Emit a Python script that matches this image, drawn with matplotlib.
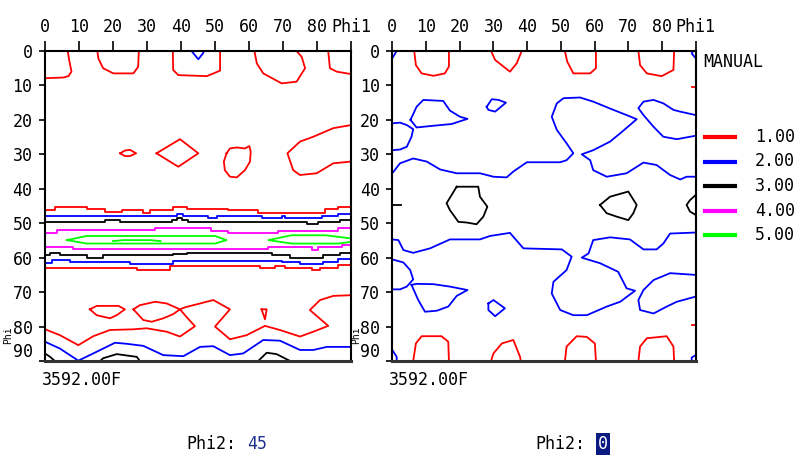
import matplotlib.pyplot as plt
from matplotlib.lines import Line2D

plt.rcParams['font.family'] = ['DejaVu Sans Mono']

# contour levels (legend)
levels = ['1.00', '2.00', '3.00', '4.00', '5.00']
level_colors = ['#ff0000', '#0000ff', '#000000', '#ff00ff', '#00ff00']

phi1_ticks = [0, 10, 20, 30, 40, 50, 60, 70, 80, 90]
phi1_labels = ['0', '10', '20', '30', '40', '50', '60', '70', '80', 'Phi1']
Phi_ticks = [0, 10, 20, 30, 40, 50, 60, 70, 80, 90]
Phi_labels = ['0', '10', '20', '30', '40', '50', '60', '70', '80', '90']

# ---- left section, Phi2 = 45 : contour lines as (phi1, Phi) vertices ----
L1_a_x = [6.7, 7.1, 7.8, 6.9, 5.4, 0]
L1_a_y = [0, 2.6, 6, 7.3, 7.7, 7.9]
L1_b_x = [15.4, 15.7, 17.1, 20.1, 26.0, 27.4, 27.6]
L1_b_y = [0, 2.2, 5.0, 6.5, 6.5, 4.6, 0]
L1_c_x = [37.6, 37.7, 39.2, 47.6, 51.5, 51.5]
L1_c_y = [0, 5.5, 7.0, 7.3, 5.7, 0]
L1_d_x = [61.6, 62.3, 64.2, 69.6, 74.0, 76.5, 75.5, 74.0]
L1_d_y = [0, 3.6, 6.5, 9.4, 8.9, 5.0, 1.7, 0]
L1_e_x = [83.3, 83.8, 85.8, 90]
L1_e_y = [0, 5.0, 6.0, 6.7]
L2_a_x = [43.1, 45.1, 46.6, 46.5]
L2_a_y = [0, 2.4, 0.5, 0]
L1_f_x = [22.1, 23.5, 25.0, 26.8, 25.0, 23.5, 22.1]
L1_f_y = [29.7, 28.9, 28.7, 29.7, 30.5, 30.5, 29.7]
L1_g_x = [32.8, 39.7, 45.1, 39.2, 32.8]
L1_g_y = [29.7, 25.6, 29.7, 33.6, 29.7]
L1_h_x = [53.4, 54.4, 56.4, 58.8, 60.1, 60.5, 60.3, 58.8, 56.4, 54.4, 52.9, 52.6, 53.4]
L1_h_y = [29.7, 28.3, 28.0, 28.3, 27.6, 29.2, 32.1, 34.6, 36.7, 36.5, 34.6, 32.1, 29.7]
L1_i_x = [90, 84.8, 78.9, 75.0, 71.3, 73.0, 75.0, 79.9, 84.8, 90]
L1_i_y = [21.5, 22.4, 24.9, 26.3, 29.7, 34.6, 36.0, 35.5, 32.6, 32.1]
# horizontal bands (stepped)
L1_up_x = [0, 2.9, 12.3, 17.6, 22.5, 28.9, 30.9, 37.7, 41.7, 53.9, 62.7, 82.4, 86.3, 90]
L1_up_y = [46.2, 45.4, 46.0, 46.7, 46.2, 46.9, 46.2, 45.4, 46.0, 46.2, 46.9, 46.0, 45.4, 45.4]
L2_up_x = [0, 38.7, 40.7, 48.0, 50.5, 63.7, 69.6, 70.6, 81.4, 86.3, 90]
L2_up_y = [47.8, 47.2, 47.8, 48.6, 47.8, 48.6, 47.8, 48.6, 47.8, 47.3, 47.3]
L3_up_x = [0, 17.6, 22.1, 37.3, 38.7, 40.2, 42, 77, 80.4, 86.7, 90]
L3_up_y = [49.6, 49.1, 49.6, 49.0, 48.4, 49.1, 49.6, 50.3, 49.6, 49.0, 49.0]
L4_up_x = [0, 3.4, 28.9, 32.4, 48.9, 53.9, 68.6, 86.3, 90]
L4_up_y = [52.7, 52.0, 51.9, 51.3, 52.2, 52.8, 52.2, 51.5, 51.5]
L5_a_x = [6.4, 12.3, 50, 53.4, 50, 12.3, 6.4]
L5_a_y = [54.9, 53.7, 53.7, 54.9, 55.9, 55.9, 54.9]
L5_b_x = [20, 23, 31, 34]
L5_b_y = [55.2, 54.9, 54.9, 55.2]
L5_c_x = [90, 82.4, 72.5, 65.7, 72.5, 86.3, 90]
L5_c_y = [54.4, 53.5, 53.5, 54.9, 55.9, 55.9, 55.4]
L4_dn_x = [0, 8.3, 65.7, 78.4, 80.4, 87.3, 90]
L4_dn_y = [57.0, 57.6, 57.0, 57.9, 57.0, 56.4, 56.4]
L3_dn_x = [0, 1.5, 4.4, 12.3, 17.2, 37.7, 41.7, 66.7, 72.1, 81.9, 86.8, 90]
L3_dn_y = [59.2, 58.6, 59.2, 60.0, 59.2, 58.8, 58.6, 59.2, 60.0, 59.2, 58.6, 58.6]
L2_dn_x = [0, 2.0, 7.4, 25.0, 37.7, 69.6, 75.0, 81.9, 86.3, 90]
L2_dn_y = [61.5, 60.7, 61.2, 61.7, 60.9, 61.4, 61.9, 61.2, 60.5, 60.5]
L1_dn_x = [0, 27, 36.8, 63.2, 67.6, 70.6, 78.4, 80.9, 86.3, 90]
L1_dn_y = [63.1, 63.6, 62.5, 63.1, 62.5, 63.1, 63.6, 63.1, 62.2, 62.2]
# lower part
L1_j_x = [13.2, 15.2, 21.6, 23.5, 21.1, 19.1, 15.2, 13.2]
L1_j_y = [75.0, 74.0, 74.0, 75.0, 76.7, 77.6, 76.7, 75.0]
L1_k_x = [26.0, 27.9, 32.4, 35.8, 39.7, 37.7, 34.8, 31.4, 28.9, 26.0]
L1_k_y = [75.0, 73.8, 72.8, 73.3, 75.0, 76.4, 77.6, 78.6, 78.1, 75.0]
L1_l_x = [0, 4.4, 9.8, 14.2, 19.1, 26.0, 29.9, 35.8, 39.7, 44.1, 41.7, 39.7, 41.2, 45.6,
          49.5, 54.4, 50.0, 54.4, 59.3, 64.7, 69.1, 75.0, 78.9, 83.3, 77.9, 80.9, 84.8, 90]
L1_l_y = [80.8, 82.5, 85.4, 82.8, 81.0, 80.8, 80.5, 81.5, 82.9, 79.9, 77.3, 75.0, 74.4, 73.3,
          72.3, 75.0, 80.0, 83.7, 82.5, 79.8, 81.0, 82.9, 81.5, 79.8, 75.2, 72.3, 71.1, 70.9]
L1_m_x = [63.7, 65.2, 64.7, 63.7]
L1_m_y = [75.0, 75.0, 77.9, 75.0]
L2_b_x = [0, 4.4, 9.8, 14.2, 20.6, 24.0, 28.9, 34.8, 40.7, 45.6, 49.5, 54.4, 58.3, 64.2,
          69.1, 75.0, 78.9, 82.9, 90]
L2_b_y = [84.4, 86.4, 89.9, 87.8, 84.7, 85.0, 85.6, 88.3, 88.6, 85.9, 85.7, 88.3, 87.8, 83.9,
          84.1, 86.8, 86.8, 85.9, 85.9]
L3_a_x = [0, 1.5, 2.9]
L3_a_y = [87.8, 88.8, 90]
L3_b_x = [16.2, 17.1, 21.1, 27.0, 27.9]
L3_b_y = [90, 89.2, 88.0, 88.8, 90]
L3_c_x = [62.7, 65.2, 68.1, 72.1]
L3_c_y = [90, 87.6, 88.0, 90]

# ---- right section, Phi2 = 0 ----
R1_a_x = [6.5, 7.0, 8.7, 12.2, 15.6, 16.8, 16.8]
R1_a_y = [0, 4.1, 6.5, 7.2, 6.5, 4.5, 0]
R1_b_x = [29.3, 30.5, 34.9, 36.9, 38.4]
R1_b_y = [0, 2.6, 6.0, 3.6, 0]
R1_c_x = [51.2, 51.9, 53.7, 58.7, 60.4, 60.4]
R1_c_y = [0, 3.1, 6.5, 6.5, 5.0, 0]
R1_d_x = [73.0, 73.5, 75.5, 79.9, 83.4, 83.6]
R1_d_y = [0, 4.1, 6.5, 7.3, 5.5, 0]
R1_e_x = [6.2, 7.0, 8.7, 14.6, 16.6, 16.8]
R1_e_y = [90, 84.9, 82.8, 82.8, 84.4, 90]
R1_f_x = [29.3, 30.0, 32.5, 35.9, 37.9, 38.1]
R1_f_y = [90, 87.8, 84.9, 83.9, 88.8, 90]
R1_g_x = [51.2, 51.7, 54.7, 57.7, 60.1, 60.4]
R1_g_y = [90, 85.8, 82.8, 83.0, 84.9, 90]
R1_h_x = [73.0, 73.5, 75.5, 81.4, 83.4, 83.6]
R1_h_y = [90, 85.8, 83.4, 82.8, 85.8, 90]
R1_i_x = [89, 90]
R1_i_y = [10.4, 10.4]
R1_j_x = [89, 90]
R1_j_y = [79.6, 79.6]
R2_a_x = [0, 1.3]
R2_a_y = [2.1, 0]
R2_b_x = [90, 88.8, 89.3]
R2_b_y = [2.1, 0.7, 0]
R2_c_x = [0, 1.3, 1.3]
R2_c_y = [86.8, 88.8, 90]
R2_d_x = [90, 88.8, 88.8]
R2_d_y = [88.3, 89.0, 90]
R2_e_x = [0, 2.3, 4.3, 6.2, 5.7, 4.3, 2.3, 0]
R2_e_y = [21.0, 20.8, 21.5, 22.7, 24.9, 27.8, 28.6, 28.8]
R2_f_x = [5.4, 7.2, 9.2, 15.1, 17.1, 20.1, 22.3, 17.6, 12.2, 7.2, 5.4]
R2_f_y = [20.0, 16.2, 14.2, 14.5, 17.3, 19.1, 19.7, 21.2, 21.7, 22.2, 20.0]
R2_g_x = [28.0, 29.5, 31.5, 33.7, 30.5, 28.5, 28.0]
R2_g_y = [16.2, 14.0, 14.2, 15.0, 17.6, 17.1, 16.2]
R2_h_x = [0, 2.3, 6.2, 10.2, 14.2, 19.1, 26.0, 30.0, 33.9, 35.9, 39.9, 49.8, 51.7, 53.7,
          51.7, 48.8, 47.3, 48.8, 50.8, 55.7, 59.6, 65.6, 69.5, 72.5, 67.6, 64.6, 59.6, 56.2,
          58.7, 59.6, 63.6, 69.5, 74.5, 78.4, 82.4, 85.4, 87.3, 90]
R2_h_y = [35.5, 32.6, 31.2, 32.1, 34.4, 35.5, 35.5, 36.5, 36.7, 35.0, 32.3, 32.3, 31.7, 29.7,
          26.8, 22.9, 19.1, 15.2, 13.7, 13.5, 14.7, 17.1, 18.6, 19.8, 23.9, 26.3, 28.8, 30.0,
          31.7, 34.6, 36.5, 35.5, 32.4, 33.1, 36.0, 37.3, 36.5, 36.5]
R2_i_x = [90, 85.4, 83.4, 80.4, 77.5, 74.5, 73.0, 74.5, 77.5, 80.4, 84.4, 88.3, 90]
R2_i_y = [18.6, 17.6, 17.1, 15.2, 14.2, 14.7, 16.6, 18.6, 22.0, 24.9, 25.6, 24.9, 24.6]
R2_j_x = [0, 1.8, 3.3, 6.2, 11.2, 17.1, 26.0, 29.0, 34.9, 38.9, 50.3, 53.2, 51.7, 47.8,
          47.3, 49.8, 53.7, 57.7, 63.6, 67.6, 72.0, 69.5, 67.0, 61.6, 56.2, 58.2, 59.6, 64.6,
          70.5, 74.5, 78.4, 80.4, 82.4, 90]
R2_j_y = [54.7, 54.9, 57.8, 58.6, 57.3, 54.7, 54.7, 53.7, 52.8, 57.3, 57.6, 59.7, 63.6, 67.0,
          70.4, 75.2, 76.7, 76.7, 74.2, 72.8, 69.6, 68.9, 64.1, 61.6, 60.0, 58.8, 54.9, 54.1,
          54.7, 57.6, 57.6, 55.9, 53.0, 52.7]
R2_k_x = [0, 3.3, 5.3, 6.2, 4.3, 2.3, 0]
R2_k_y = [60.5, 61.4, 63.6, 66.3, 68.4, 69.2, 69.2]
R2_l_x = [5.7, 7.2, 12.2, 17.1, 22.3, 19.1, 16.6, 13.2, 9.7, 7.7, 5.7]
R2_l_y = [67.9, 67.6, 67.7, 68.4, 69.4, 71.1, 74.2, 75.4, 75.7, 72.3, 67.9]
R2_m_x = [28.5, 30.0, 33.4, 30.5, 28.5, 28.5]
R2_m_y = [73.3, 72.3, 74.7, 77.0, 75.2, 73.3]
R2_n_x = [90, 82.4, 77.5, 74.5, 73.0, 73.5, 77.5, 81.4, 84.4, 90]
R2_n_y = [65.0, 64.5, 66.5, 69.4, 72.3, 75.2, 76.2, 74.2, 72.8, 71.3]
R3_a_x = [19.1, 25.5, 26.0, 28.2, 27.0, 25.0, 22.1, 19.6, 17.1, 16.1, 17.6, 19.1]
R3_a_y = [39.4, 39.4, 42.3, 45.2, 48.1, 50.3, 49.8, 49.6, 46.2, 44.2, 41.8, 39.4]
R3_b_x = [61.6, 64.6, 70.0, 72.5, 71.5, 70.0, 66.6, 63.6, 61.6]
R3_b_y = [44.7, 42.3, 40.8, 44.7, 47.1, 49.1, 48.1, 47.1, 44.7]
R3_c_x = [90, 88.3, 87.3, 88.3, 90]
R3_c_y = [41.8, 43.3, 44.7, 46.6, 47.6]
R3_d_x = [0, 2.5]
R3_d_y = [44.6, 44.6]

# (level index, phi1, Phi, stepped)
left_lines = [
    (0, L1_a_x, L1_a_y, False), (0, L1_b_x, L1_b_y, False), (0, L1_c_x, L1_c_y, False),
    (0, L1_d_x, L1_d_y, False), (0, L1_e_x, L1_e_y, False), (1, L2_a_x, L2_a_y, False),
    (0, L1_f_x, L1_f_y, False), (0, L1_g_x, L1_g_y, False), (0, L1_h_x, L1_h_y, False),
    (0, L1_i_x, L1_i_y, False),
    (0, L1_up_x, L1_up_y, True), (1, L2_up_x, L2_up_y, True), (2, L3_up_x, L3_up_y, True),
    (3, L4_up_x, L4_up_y, True), (4, L5_a_x, L5_a_y, False), (4, L5_b_x, L5_b_y, False),
    (4, L5_c_x, L5_c_y, False), (3, L4_dn_x, L4_dn_y, True), (2, L3_dn_x, L3_dn_y, True),
    (1, L2_dn_x, L2_dn_y, True), (0, L1_dn_x, L1_dn_y, True),
    (0, L1_j_x, L1_j_y, False), (0, L1_k_x, L1_k_y, False), (0, L1_l_x, L1_l_y, False),
    (0, L1_m_x, L1_m_y, False), (1, L2_b_x, L2_b_y, False), (2, L3_a_x, L3_a_y, False),
    (2, L3_b_x, L3_b_y, False), (2, L3_c_x, L3_c_y, False),
]
right_lines = [
    (0, R1_a_x, R1_a_y, False), (0, R1_b_x, R1_b_y, False), (0, R1_c_x, R1_c_y, False),
    (0, R1_d_x, R1_d_y, False), (0, R1_e_x, R1_e_y, False), (0, R1_f_x, R1_f_y, False),
    (0, R1_g_x, R1_g_y, False), (0, R1_h_x, R1_h_y, False), (0, R1_i_x, R1_i_y, False),
    (0, R1_j_x, R1_j_y, False),
    (1, R2_a_x, R2_a_y, False), (1, R2_b_x, R2_b_y, False), (1, R2_c_x, R2_c_y, False),
    (1, R2_d_x, R2_d_y, False), (1, R2_e_x, R2_e_y, False), (1, R2_f_x, R2_f_y, False),
    (1, R2_g_x, R2_g_y, False), (1, R2_h_x, R2_h_y, False), (1, R2_i_x, R2_i_y, False),
    (1, R2_j_x, R2_j_y, False), (1, R2_k_x, R2_k_y, False), (1, R2_l_x, R2_l_y, False),
    (1, R2_m_x, R2_m_y, False), (1, R2_n_x, R2_n_y, False),
    (2, R3_a_x, R3_a_y, False), (2, R3_b_x, R3_b_y, False), (2, R3_c_x, R3_c_y, False),
    (2, R3_d_x, R3_d_y, False),
]

W, H = 798, 459
fig = plt.figure(figsize=(W / 100, H / 100), dpi=100)
axL = fig.add_axes([45 / W, 1 - 361 / H, 306 / W, 310 / H])
axR = fig.add_axes([392.3 / W, 1 - 361 / H, 303.4 / W, 310 / H])


def draw_section(ax, lines):
    for lvl, xs, ys, stepped in lines:
        ax.plot(xs, ys, color=level_colors[lvl], lw=1.3,
                drawstyle='steps-post' if stepped else 'default')
    ax.set_xlim(0, 90)
    ax.set_ylim(90, 0)
    ax.xaxis.tick_top()
    ax.set_xticks(phi1_ticks)
    ax.set_xticklabels(phi1_labels)
    ax.set_yticks(Phi_ticks)
    ax.set_yticklabels(Phi_labels)
    ax.tick_params(axis='x', direction='out', length=7, width=1.2, pad=4, labelsize=12)
    ax.tick_params(axis='y', direction='out', length=4, width=1.2, pad=5, labelsize=12)
    for s in ax.spines.values():
        s.set_linewidth(1.5)
    ax.spines['bottom'].set_linewidth(2.2)
    ax.spines['bottom'].set_color('#333333')
    ax.get_yticklabels()[-1].set_verticalalignment('bottom')
    # axis name, set vertically beside the 80 / 90 labels
    ax.text(-0.12, 82.6, 'Phi', transform=ax.get_yaxis_transform(),
            ha='center', va='center', rotation=90, fontsize=7)
    ax.text(-0.01, -0.06, '3592.00F', transform=ax.transAxes, ha='left', va='center', fontsize=12)


draw_section(axL, left_lines)
draw_section(axR, right_lines)

# legend
fig.text(703 / W, 1 - 62 / H, 'MANUAL', fontsize=12, ha='left', va='center')
for i, (lab, col) in enumerate(zip(levels, level_colors)):
    yy = 1 - (137 + i * 24.5) / H
    fig.add_artist(Line2D([705 / W, 735 / W], [yy, yy], color=col, lw=3,
                          transform=fig.transFigure))
    fig.text(755 / W, yy, lab, fontsize=12, ha='left', va='center')

# section labels
fig.text(186 / W, 1 - 444 / H, 'Phi2:', fontsize=12, ha='left', va='center')
fig.text(247 / W, 1 - 444 / H, '45', fontsize=12, ha='left', va='center', color='#1f2f8f')
fig.text(535 / W, 1 - 444 / H, 'Phi2:', fontsize=12, ha='left', va='center')
fig.text(598 / W, 1 - 444 / H, '0', fontsize=12, ha='left', va='center', color='white',
         bbox=dict(boxstyle='square,pad=0.12', fc='#0a1a80', ec='none'))

fig.savefig('out.png', dpi=100)
